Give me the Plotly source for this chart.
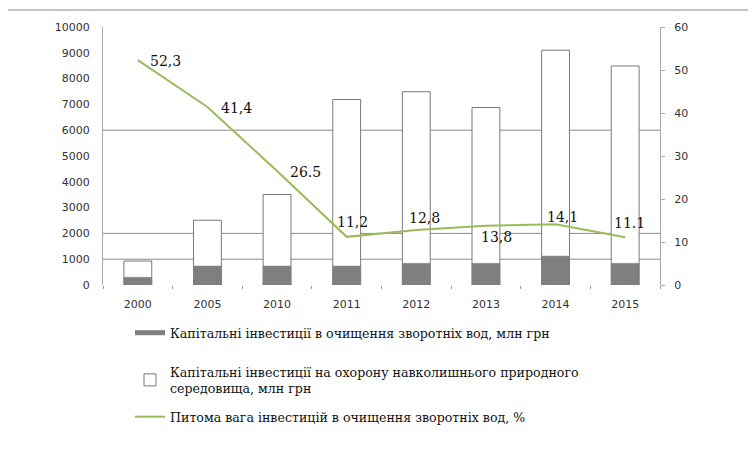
import plotly.graph_objects as go

years = ["2000", "2005", "2010", "2011", "2012", "2013", "2014", "2015"]
total_env = [930, 2510, 3510, 7190, 7490, 6880, 9100, 8490]
wastewater = [300, 735, 735, 735, 840, 840, 1120, 840]
share_pct = [52.3, 41.4, 26.5, 11.2, 12.8, 13.8, 14.1, 11.1]
share_labels = ["52,3", "41,4", "26.5", "11,2", "12,8", "13,8", "14,1", "11.1"]
grid_values = [1000, 2000, 6000]

# label offsets (pixels) relative to each point
label_dx = [28, 29, 28, 6, 8, 11, 7, 4]
label_dy = [-1, -1, -1, 15, 12, -11, 7, 14]

name_ww = "Капітальні інвестиції в очищення зворотніх вод, млн грн"
name_total = "Капітальні інвестиції на охорону навколишнього природного<br>середовища, млн грн"
name_share = "Питома вага інвестицій в очищення зворотніх вод, %"

OFF = 8  # page body margin
W, H = 748, 449
L, R, T, B = 95, 96, 19, 172
pw, ph = W - L - R, H - T - B


def sx(px):
    return (px - OFF - L) / pw


def sy(py):
    return (H - B - (py - OFF)) / ph


serif = "DejaVu Serif"
sans = "DejaVu Sans"

fig = go.Figure()

fig.add_trace(go.Bar(
    x=years, y=total_env, name=name_total, width=0.4,
    marker=dict(color="white", line=dict(color="#7a7a7a", width=1)),
    legend="legend2", showlegend=True,
))
fig.add_trace(go.Bar(
    x=years, y=wastewater, name=name_ww, width=0.4,
    marker=dict(color="#7f7f7f", line=dict(color="#7f7f7f", width=0.5)),
    showlegend=False,
))
# legend entry for wastewater bars (flat bar symbol)
fig.add_trace(go.Scatter(
    x=[None], y=[None], mode="lines", name=name_ww,
    line=dict(color="#7f7f7f", width=5), legend="legend", showlegend=True,
))
fig.add_trace(go.Scatter(
    x=years, y=share_pct, yaxis="y2", mode="lines", name=name_share,
    line=dict(color="#9bbb59", width=2),
    legend="legend3", showlegend=True,
))

annotations = [
    dict(x=i, y=v, xref="x", yref="y2", text=t, showarrow=False,
         xshift=dx, yshift=dy,
         font=dict(family=serif, size=14, color="#111"))
    for i, (v, t, dx, dy) in enumerate(zip(share_pct, share_labels, label_dx, label_dy))
]

shapes = [dict(
    type="line", xref="paper", yref="y", x0=0, x1=1, y0=g, y1=g,
    line=dict(color="#8a8a8a", width=1), layer="below",
) for g in grid_values]
shapes.append(dict(
    type="rect", xref="paper", yref="paper",
    x0=sx(7), x1=sx(770), y0=sy(470), y1=sy(10),
    line=dict(color="#8a8a8a", width=1), fillcolor="rgba(0,0,0,0)",
    layer="below",
))

legend_common = dict(
    xanchor="left", yanchor="top",
    font=dict(family=serif, size=12.6, color="#111"), bgcolor="rgba(0,0,0,0)",
)

fig.update_layout(
    width=W, height=H,
    margin=dict(l=L, r=R, t=T, b=B, autoexpand=False),
    paper_bgcolor="white", plot_bgcolor="white",
    barmode="overlay",
    xaxis=dict(
        type="category", categoryorder="array", categoryarray=years,
        range=[-0.5, len(years) - 0.5],
        showgrid=False, showline=False, zeroline=False,
        ticks="outside", tickson="boundaries", ticklen=3, tickcolor="#999",
        tickfont=dict(family=sans, size=11, color="#333"),
        ticklabelstandoff=11,
    ),
    yaxis=dict(
        range=[0, 10000], dtick=1000, tickformat="d", showgrid=False, zeroline=False,
        showline=True, linecolor="#aaa", linewidth=1,
        ticks="", tickfont=dict(family=sans, size=11, color="#333"),
        ticklabelstandoff=10,
    ),
    yaxis2=dict(
        range=[0, 60], dtick=10, overlaying="y", side="right",
        showgrid=False, zeroline=False,
        showline=True, linecolor="#aaa", linewidth=1,
        ticks="outside", ticklen=4, tickcolor="#aaa",
        tickfont=dict(family=sans, size=11, color="#333"),
        ticklabelstandoff=7,
    ),
    legend=dict(x=sx(130), y=sy(318), **legend_common),
    legend2=dict(x=sx(130), y=sy(357), **legend_common),
    legend3=dict(x=sx(130), y=sy(402), **legend_common),
    annotations=annotations,
    shapes=shapes,
)

fig.write_html("out.html")
